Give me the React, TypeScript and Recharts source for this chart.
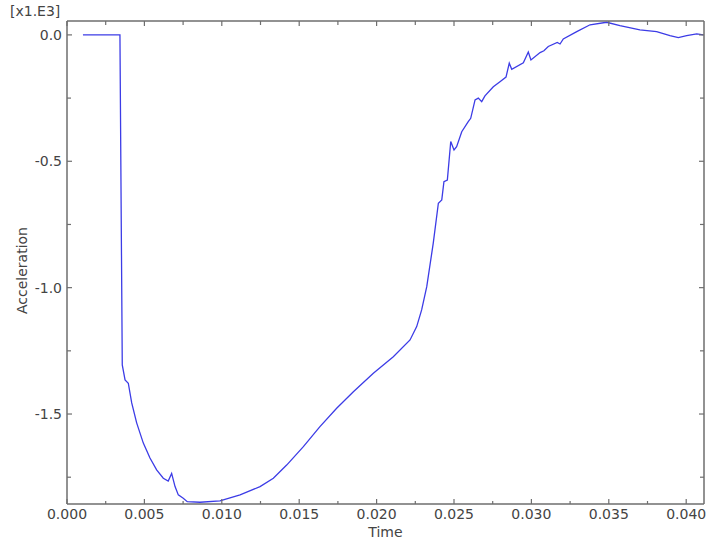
import React from "react";
import { LineChart, Line, XAxis, YAxis } from "recharts";

// time [s] / acceleration [x1.E3]
const TIME = [
  0.00103, 0.00342, 0.00357, 0.00375, 0.00396, 0.00418, 0.0045, 0.00493, 0.00536, 0.00579,
  0.00622, 0.00654, 0.00676, 0.00698, 0.00719, 0.00751, 0.00777, 0.00859, 0.00988, 0.01118,
  0.01247, 0.01333, 0.01419, 0.01527, 0.01634, 0.01742, 0.0185, 0.01979, 0.02108, 0.02216,
  0.02259, 0.02291, 0.02324, 0.02366, 0.02399, 0.02421, 0.02435, 0.02457, 0.02479, 0.025,
  0.02517, 0.0255, 0.02592, 0.02608, 0.02636, 0.02657, 0.02679, 0.027, 0.02754, 0.02797,
  0.02836, 0.02857, 0.02873, 0.02948, 0.0298, 0.02997, 0.03056, 0.03081, 0.03109, 0.03167,
  0.03185, 0.03206, 0.03293, 0.03379, 0.03486, 0.03572, 0.03701, 0.03809, 0.03895, 0.03949,
  0.04003, 0.04068, 0.04111,
];
const ACCEL = [
  0, 0, -1.306, -1.365, -1.378, -1.456, -1.535, -1.615, -1.674, -1.721,
  -1.754, -1.765, -1.735, -1.787, -1.82, -1.833, -1.847, -1.849, -1.844, -1.82,
  -1.787, -1.754, -1.702, -1.629, -1.55, -1.477, -1.412, -1.339, -1.273, -1.207,
  -1.154, -1.088, -0.996, -0.824, -0.666, -0.653, -0.581, -0.574, -0.422, -0.455,
  -0.442, -0.383, -0.343, -0.33, -0.257, -0.25, -0.264, -0.241, -0.205, -0.185,
  -0.167, -0.112, -0.136, -0.11, -0.068, -0.099, -0.07, -0.063, -0.046, -0.03,
  -0.036, -0.016, 0.013, 0.04, 0.05, 0.037, 0.02, 0.013, -0.003, -0.011,
  -0.003, 0.004, 0,
];

const X_TICKS = [
  0, 0.0025, 0.005, 0.0075, 0.01, 0.0125, 0.015, 0.0175, 0.02, 0.0225, 0.025, 0.0275, 0.03,
  0.0325, 0.035, 0.0375, 0.04,
];
const Y_TICKS = [-1.75, -1.5, -1.25, -1.0, -0.75, -0.5, -0.25, 0];

const X_DOMAIN = [0, 0.04115];
const Y_DOMAIN = [-1.856, 0.055];

const FONT = "'DejaVu Sans', Verdana, sans-serif";
const TEXT = "#444";
const AXIS = "#6e6e6e";

const data = TIME.map((t, i) => ({ t, a: ACCEL[i] }));

const isMajorX = (v: number) => Math.abs(v / 0.005 - Math.round(v / 0.005)) < 1e-6;
const isMajorY = (v: number) => Math.abs(v / 0.5 - Math.round(v / 0.5)) < 1e-6;

// ticks point into the plot, so draw them ourselves
function BottomTick(props: any) {
  const { x, y, payload } = props;
  const major = isMajorX(payload.value);
  return (
    <g>
      <line x1={x} x2={x} y1={y} y2={y - (major ? 5 : 3)} stroke={AXIS} strokeWidth={1.2} />
      {major && (
        <text x={x} y={y + 15} textAnchor="middle" fill={TEXT} fontSize={14} fontFamily={FONT}>
          {payload.value.toFixed(3)}
        </text>
      )}
    </g>
  );
}

function TopTick(props: any) {
  const { x, y, payload } = props;
  const major = isMajorX(payload.value);
  return <line x1={x} x2={x} y1={y} y2={y + (major ? 5 : 4)} stroke={AXIS} strokeWidth={1.2} />;
}

function LeftTick(props: any) {
  const { x, y, payload } = props;
  const major = isMajorY(payload.value);
  return (
    <g>
      <line x1={x} x2={x + (major ? 5 : 4)} y1={y} y2={y} stroke={AXIS} strokeWidth={1.2} />
      {major && (
        <text x={x - 5} y={y + 5} textAnchor="end" fill={TEXT} fontSize={14} fontFamily={FONT}>
          {payload.value.toFixed(1)}
        </text>
      )}
    </g>
  );
}

function RightTick(props: any) {
  const { x, y, payload } = props;
  const major = isMajorY(payload.value);
  return <line x1={x} x2={x - (major ? 5 : 4)} y1={y} y2={y} stroke={AXIS} strokeWidth={1.2} />;
}

export default function App() {
  return (
    <div style={{ position: "absolute", left: 0, top: 0, width: 706, height: 541, background: "#fff" }}>
      <div
        style={{
          position: "absolute",
          left: 10,
          top: 3,
          fontFamily: FONT,
          fontSize: 14,
          color: TEXT,
          lineHeight: "16px",
        }}
      >
        [x1.E3]
      </div>
      <LineChart width={706} height={541} data={data} margin={{ top: 20, right: 1, left: 0, bottom: 0 }}>
        <XAxis
          dataKey="t"
          type="number"
          domain={X_DOMAIN}
          allowDataOverflow
          ticks={X_TICKS}
          interval={0}
          tickSize={0}
          tickMargin={0}
          tickLine={false}
          tick={BottomTick}
          axisLine={{ stroke: AXIS, strokeWidth: 1.5 }}
          height={37}
          label={{
            value: "Time",
            position: "insideBottom",
            offset: 4,
            fill: TEXT,
            fontSize: 14,
            fontFamily: FONT,
          }}
        />
        <XAxis
          xAxisId="top"
          orientation="top"
          dataKey="t"
          type="number"
          domain={X_DOMAIN}
          allowDataOverflow
          ticks={X_TICKS}
          interval={0}
          tickSize={0}
          tickMargin={0}
          tickLine={false}
          tick={TopTick}
          axisLine={{ stroke: AXIS, strokeWidth: 1.5 }}
          height={1}
        />
        <YAxis
          type="number"
          domain={Y_DOMAIN}
          allowDataOverflow
          ticks={Y_TICKS}
          interval={0}
          tickSize={0}
          tickMargin={0}
          tickLine={false}
          tick={LeftTick}
          axisLine={{ stroke: AXIS, strokeWidth: 1.5 }}
          width={67}
          label={{
            value: "Acceleration",
            angle: -90,
            position: "center",
            dx: -11,
            dy: 8,
            fill: TEXT,
            fontSize: 14,
            fontFamily: FONT,
          }}
        />
        <YAxis
          yAxisId="right"
          orientation="right"
          type="number"
          domain={Y_DOMAIN}
          allowDataOverflow
          ticks={Y_TICKS}
          interval={0}
          tickSize={0}
          tickMargin={0}
          tickLine={false}
          tick={RightTick}
          axisLine={{ stroke: AXIS, strokeWidth: 1.5 }}
          width={1}
        />
        <Line
          type="linear"
          dataKey="a"
          stroke="#3c3ce6"
          strokeWidth={1.3}
          dot={false}
          isAnimationActive={false}
        />
      </LineChart>
    </div>
  );
}
